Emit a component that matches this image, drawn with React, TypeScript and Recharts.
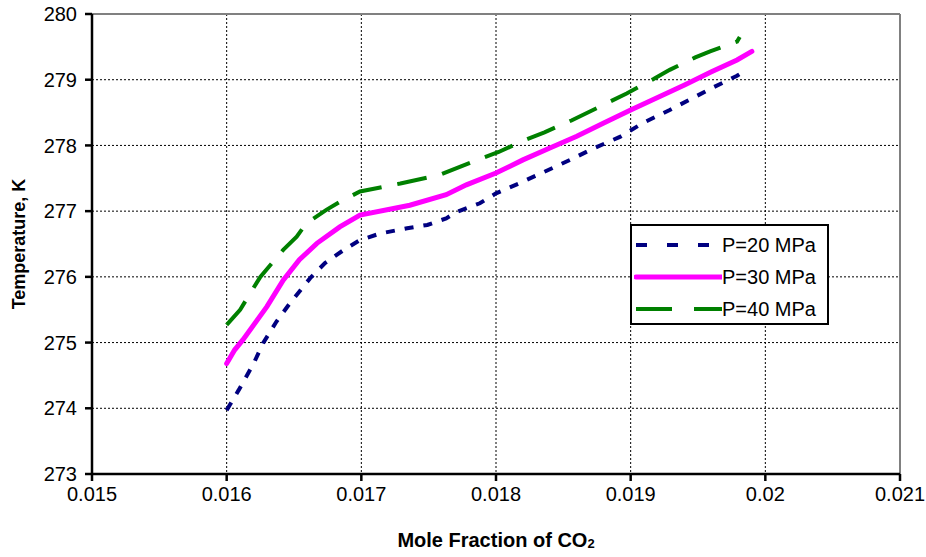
import React from "react";
import {
  LineChart,
  Line,
  XAxis,
  YAxis,
  CartesianGrid,
  ReferenceLine,
} from "recharts";

const xTicks = [0.015, 0.016, 0.017, 0.018, 0.019, 0.02, 0.021];
const yTicks = [273, 274, 275, 276, 277, 278, 279, 280];

const p20X = [0.016, 0.01609, 0.0162, 0.01627, 0.01637, 0.01647, 0.01662, 0.01673, 0.01687, 0.01699, 0.01714, 0.01734, 0.01749, 0.01763, 0.01771, 0.01788, 0.018, 0.01818, 0.01836, 0.01855, 0.01873, 0.01892, 0.01909, 0.01929, 0.01946, 0.01961, 0.01979, 0.01982];
const p20T = [273.97, 274.28, 274.68, 274.99, 275.32, 275.6, 275.98, 276.21, 276.41, 276.56, 276.66, 276.74, 276.79, 276.89, 276.99, 277.12, 277.27, 277.43, 277.6, 277.78, 277.96, 278.13, 278.34, 278.54, 278.72, 278.88, 279.06, 279.1];

const p30X = [0.016, 0.01606, 0.01612, 0.0163, 0.01642, 0.01654, 0.01667, 0.01684, 0.01699, 0.01736, 0.01763, 0.01778, 0.018, 0.0182, 0.0184, 0.0186, 0.0188, 0.019, 0.0192, 0.0194, 0.0196, 0.01979, 0.0199];
const p30T = [274.68, 274.89, 275.04, 275.55, 275.95, 276.26, 276.51, 276.76, 276.94, 277.09, 277.25, 277.4, 277.58, 277.78, 277.96, 278.14, 278.34, 278.54, 278.73, 278.92, 279.12, 279.3, 279.43];

const p40X = [0.016, 0.0161, 0.01625, 0.01642, 0.01652, 0.01659, 0.01674, 0.01684, 0.01699, 0.01729, 0.01758, 0.01786, 0.01802, 0.0182, 0.01836, 0.01856, 0.01876, 0.01897, 0.01917, 0.01929, 0.01948, 0.01959, 0.01979, 0.01981];
const p40T = [275.27, 275.5, 276.0, 276.41, 276.61, 276.81, 277.02, 277.14, 277.3, 277.42, 277.55, 277.78, 277.9, 278.07, 278.2, 278.38, 278.58, 278.79, 279.01, 279.15, 279.34, 279.43, 279.58, 279.65];

const zip = (xs: number[], ys: number[]) => xs.map((x, i) => ({ x, t: ys[i] }));

const series = [
  { name: "P=20 MPa", data: zip(p20X, p20T), color: "#000080", width: 4, dash: "9 10", legendDash: "11 20" },
  { name: "P=30 MPa", data: zip(p30X, p30T), color: "#FF00FF", width: 5, dash: undefined, legendDash: undefined },
  { name: "P=40 MPa", data: zip(p40X, p40T), color: "#008000", width: 4, dash: "30 16", legendDash: "36 22" },
];

const font = "'Liberation Sans', Arial, sans-serif";

function LegendBox() {
  return (
    <div
      style={{
        position: "absolute",
        left: 630,
        top: 224,
        width: 195,
        height: 94,
        border: "2px solid #000",
        background: "#fff",
        fontFamily: font,
        fontSize: 20,
        color: "#000",
        paddingTop: 3,
      }}
    >
      {series.map((s) => (
        <div key={s.name} style={{ display: "flex", alignItems: "center", height: 32 }}>
          <svg width={88} height={10} style={{ marginLeft: 2 }}>
            <line
              x1={2}
              y1={5}
              x2={88}
              y2={5}
              stroke={s.color}
              strokeWidth={s.width}
              strokeDasharray={s.legendDash}
              strokeLinecap={s.legendDash ? "butt" : "round"}
            />
          </svg>
          <span>{s.name}</span>
        </div>
      ))}
    </div>
  );
}

function XTitle(props: any) {
  const vb = props.viewBox || {};
  const cx = vb.x + vb.width / 2;
  return (
    <text x={cx} y={vb.y + 73} textAnchor="middle" fontFamily={font} fontWeight="bold" fontSize={20} fill="#000">
      <tspan>Mole Fraction of CO</tspan>
      <tspan fontSize={13} dy={1}>2</tspan>
    </text>
  );
}

function YTitle(props: any) {
  const vb = props.viewBox || {};
  const cy = vb.y + vb.height / 2;
  const x = 19;
  return (
    <text
      x={x}
      y={cy}
      textAnchor="middle"
      transform={`rotate(-90, ${x}, ${cy})`}
      fontFamily={font}
      fontWeight="bold"
      fontSize={18}
      fill="#000"
      dominantBaseline="central"
    >
      Temperature, K
    </text>
  );
}

export default function App() {
  return (
    <div style={{ position: "absolute", left: 0, top: 0, width: 926, height: 557, background: "#fff" }}>
      <LineChart
        width={926}
        height={557}
        margin={{ top: 14, right: 26, left: 32, bottom: 23 }}
      >
        <CartesianGrid stroke="#000" strokeDasharray="2 2" strokeWidth={1} />
        <XAxis
          type="number"
          dataKey="x"
          domain={[0.015, 0.021]}
          ticks={xTicks}
          allowDataOverflow
          height={60}
          stroke="#000"
          strokeWidth={2.5}
          tickSize={7}
          tickMargin={6}
          tick={{ fill: "#000", fontSize: 20, fontFamily: font }}
          label={<XTitle />}
        />
        <YAxis
          type="number"
          dataKey="t"
          domain={[273, 280]}
          ticks={yTicks}
          allowDataOverflow
          width={60}
          stroke="#000"
          strokeWidth={2.5}
          tickSize={7}
          tickMargin={8}
          tick={{ fill: "#000", fontSize: 20, fontFamily: font }}
          label={<YTitle />}
        />
        <ReferenceLine y={280} stroke="#808080" strokeWidth={2} />
        <ReferenceLine x={0.021} stroke="#808080" strokeWidth={2} />
        {series.map((s) => (
          <Line
            key={s.name}
            data={s.data}
            dataKey="t"
            name={s.name}
            type="linear"
            stroke={s.color}
            strokeWidth={s.width}
            strokeDasharray={s.dash}
            strokeLinecap={s.dash ? "butt" : "round"}
            dot={false}
            activeDot={false}
            isAnimationActive={false}
          />
        ))}
      </LineChart>
      <LegendBox />
    </div>
  );
}
